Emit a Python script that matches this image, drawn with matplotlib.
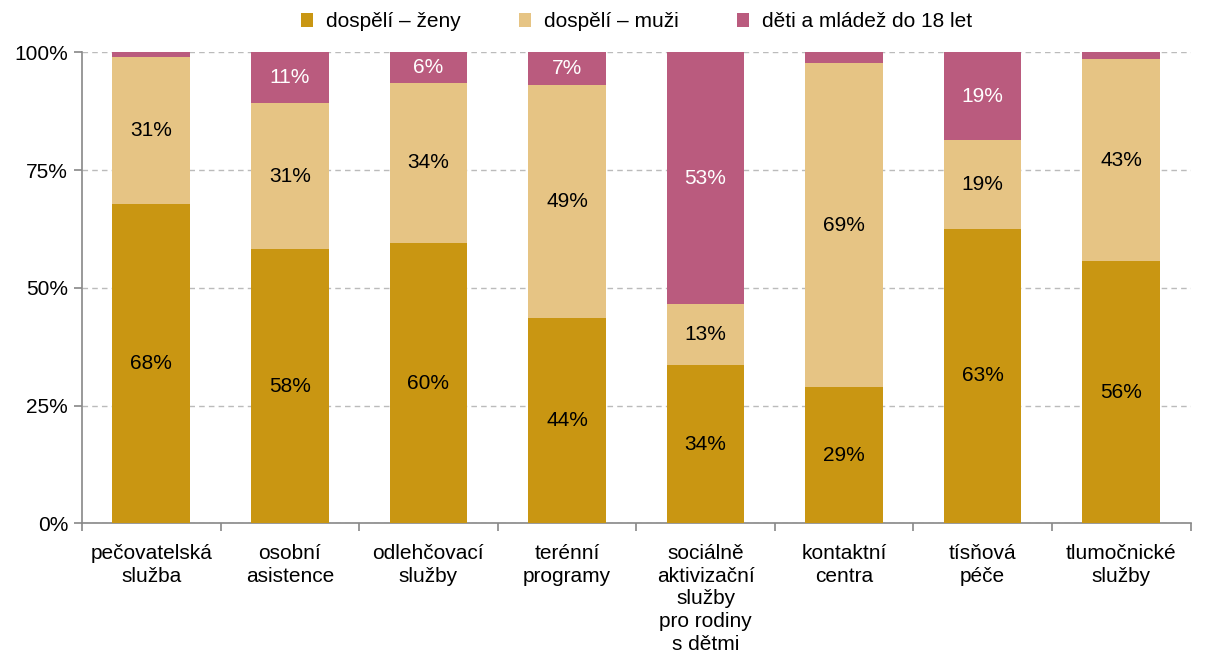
import numpy as np
import matplotlib.pyplot as plt
from matplotlib.ticker import FixedLocator

plt.rcParams['font.family'] = ['Liberation Sans', 'DejaVu Sans']

categories = ['pečovatelská\nslužba', 'osobní\nasistence', 'odlehčovací\nslužby', 'terénní\nprogramy',
              'sociálně\naktivizační\nslužby\npro rodiny\ns dětmi', 'kontaktní\ncentra', 'tísňová\npéče',
              'tlumočnické\nslužby']
zeny = [67.9, 58.2, 59.6, 43.7, 33.6, 28.9, 62.6, 55.6]
muzi = [31.2, 31.0, 34.0, 49.3, 13.0, 68.8, 18.7, 42.9]
deti = [0.9, 10.8, 6.4, 7.0, 53.4, 2.3, 18.7, 1.5]
series_names = ['dospělí – ženy', 'dospělí – muži', 'děti a mládež do 18 let']
colors = ['#C99612', '#E6C484', '#BA5B7E']
text_colors = ['black', 'black', 'white']

fig, ax = plt.subplots(figsize=(12.05, 6.55), dpi=100)
fig.subplots_adjust(left=0.068, right=0.988, top=0.92, bottom=0.201)

x = np.arange(len(categories))
bottom = np.zeros(len(categories))
for vals, name, col, tc in zip([zeny, muzi, deti], series_names, colors, text_colors):
    vals = np.array(vals)
    ax.bar(x, vals, 0.56, bottom=bottom, color=col, label=name, zorder=3)
    for xi, b, v in zip(x, bottom, vals):
        if v >= 5:
            ax.text(xi, b + v / 2, f'{round(v):.0f}%', ha='center', va='center',
                    fontsize=15, color=tc, zorder=4)
    bottom += vals

ax.set_xlim(-0.5, len(categories) - 0.5)
ax.set_ylim(0, 100)
ax.set_yticks([0, 25, 50, 75, 100])
ax.set_yticklabels(['0%', '25%', '50%', '75%', '100%'], fontsize=15)
ax.yaxis.grid(True, linestyle=(0, (4, 3)), color='#BBBBBB', linewidth=1, zorder=0)

ax.set_xticks(x)
ax.set_xticklabels(categories, fontsize=15, linespacing=1.24)
ax.tick_params(axis='x', which='major', length=0, pad=15)
ax.xaxis.set_minor_locator(FixedLocator(np.arange(-0.5, len(categories), 1)))
ax.tick_params(axis='x', which='minor', length=6, color='#888888', width=1.2)
ax.tick_params(axis='y', length=6, color='#888888', width=1.2, pad=4)

for s in ['top', 'right']:
    ax.spines[s].set_visible(False)
for s in ['left', 'bottom']:
    ax.spines[s].set_color('#888888')
    ax.spines[s].set_linewidth(1.2)

ax.legend(loc='upper center', bbox_to_anchor=(0.5, 1.125), ncol=3, frameon=False,
          fontsize=15, handlelength=0.6, handleheight=0.6, columnspacing=2.8, handletextpad=0.6)

plt.savefig('out.png')
